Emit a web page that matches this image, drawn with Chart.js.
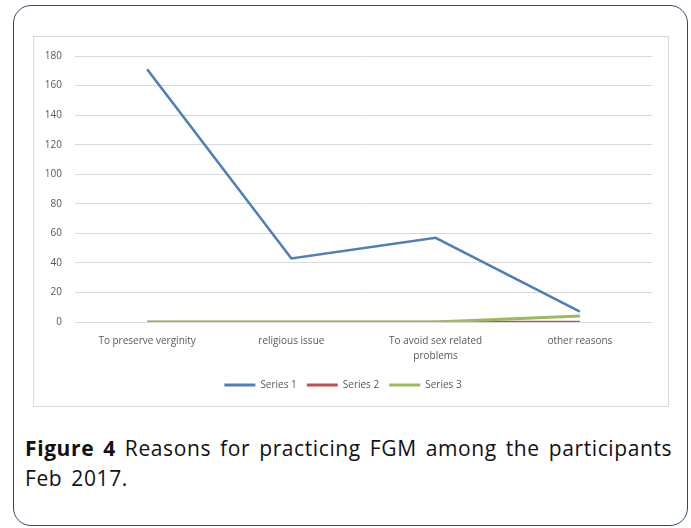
<!DOCTYPE html>
<html>
<head>
<meta charset="utf-8">
<script src="https://cdn.jsdelivr.net/npm/chart.js@4"></script>
<style>
  body { margin: 0; background: #fff; width: 691px; height: 528px; overflow: hidden; position: relative; }
  #frame {
    position: absolute; left: 13px; top: 5px; width: 675px; height: 521px;
    border: 1.5px solid #2d4a78; border-radius: 18px; box-sizing: border-box;
  }
  #box {
    position: absolute; left: 33px; top: 36px; width: 636px; height: 371px;
    border: 1px solid #d9d9d9; box-sizing: border-box;
  }
  #wrap { position: absolute; left: 34px; top: 37px; width: 634px; height: 369px; }
  #caption {
    position: absolute; left: 25px; top: 433px; width: 662px; white-space: nowrap;
    font-family: "Open Sans", sans-serif; font-size: 21px; line-height: 30px; color: #111;
    letter-spacing: 0.6px; word-spacing: 3px;
  }
</style>
</head>
<body>
<div id="frame"></div>
<div id="box"></div>
<div id="wrap"><canvas id="graficoLinha"></canvas></div>
<div id="caption"><b>Figure 4</b> Reasons for practicing FGM among the participants<br>Feb 2017.</div>
<script>
  const categorias = ["To preserve verginity", "religious issue", ["To avoid sex related", "problems"], "other reasons"];
  const serie1 = [171, 43, 57, 7];
  const serie2 = [0, 0, 0, 0];
  const serie3 = [0, 0, 0, 4];
  const nomes = ["Series 1", "Series 2", "Series 3"];
  const cores = ["#4f7fba", "#c0504d", "#9bbb59"];

  const ctx = document.querySelector("#graficoLinha");
  Chart.defaults.font.family = "'Open Sans', sans-serif";
  Chart.defaults.font.size = 10;
  Chart.defaults.color = "#595959";

  const linha = (label, data, cor, ordem, largura) => ({
    label: label,
    data: data,
    borderColor: cor,
    backgroundColor: cor,
    borderWidth: largura,
    pointRadius: 0,
    tension: 0,
    order: ordem,
  });

  new Chart(ctx, {
    type: "line",
    data: {
      labels: categorias,
      datasets: [
        linha(nomes[0], serie1, cores[0], 1, 2.6),
        linha(nomes[1], serie2, cores[1], 2, 2.4),
        linha(nomes[2], serie3, cores[2], 0, 3),
      ],
    },
    options: {
      responsive: true,
      maintainAspectRatio: false,
      animation: false,
      layout: { padding: { top: 12, right: 16, bottom: 6, left: 0 } },
      plugins: {
        tooltip: { enabled: false },
        legend: {
          position: "bottom",
          labels: {
            boxWidth: 31,
            boxHeight: 3,
            padding: 10,
            generateLabels: (chart) =>
              chart.data.datasets.map((ds, i) => ({
                text: ds.label,
                fillStyle: ds.borderColor,
                strokeStyle: ds.borderColor,
                lineWidth: 0,
                fontColor: "#595959",
                hidden: false,
                datasetIndex: i,
              })),
          },
        },
      },
      scales: {
        x: {
          offset: true,
          grid: { display: false },
          border: { display: false },
          ticks: { padding: 4, maxRotation: 0, autoSkip: false, font: { lineHeight: 1.5 } },
          afterFit: (scale) => { scale.height = 48; },
        },
        y: {
          min: 0,
          max: 180,
          ticks: { stepSize: 20, padding: 13 },
          grid: { color: "#d9d9d9", drawTicks: false },
          border: { display: false },
          afterFit: (scale) => { scale.width = 41; },
        },
      },
    },
  });
</script>
</body>
</html>
